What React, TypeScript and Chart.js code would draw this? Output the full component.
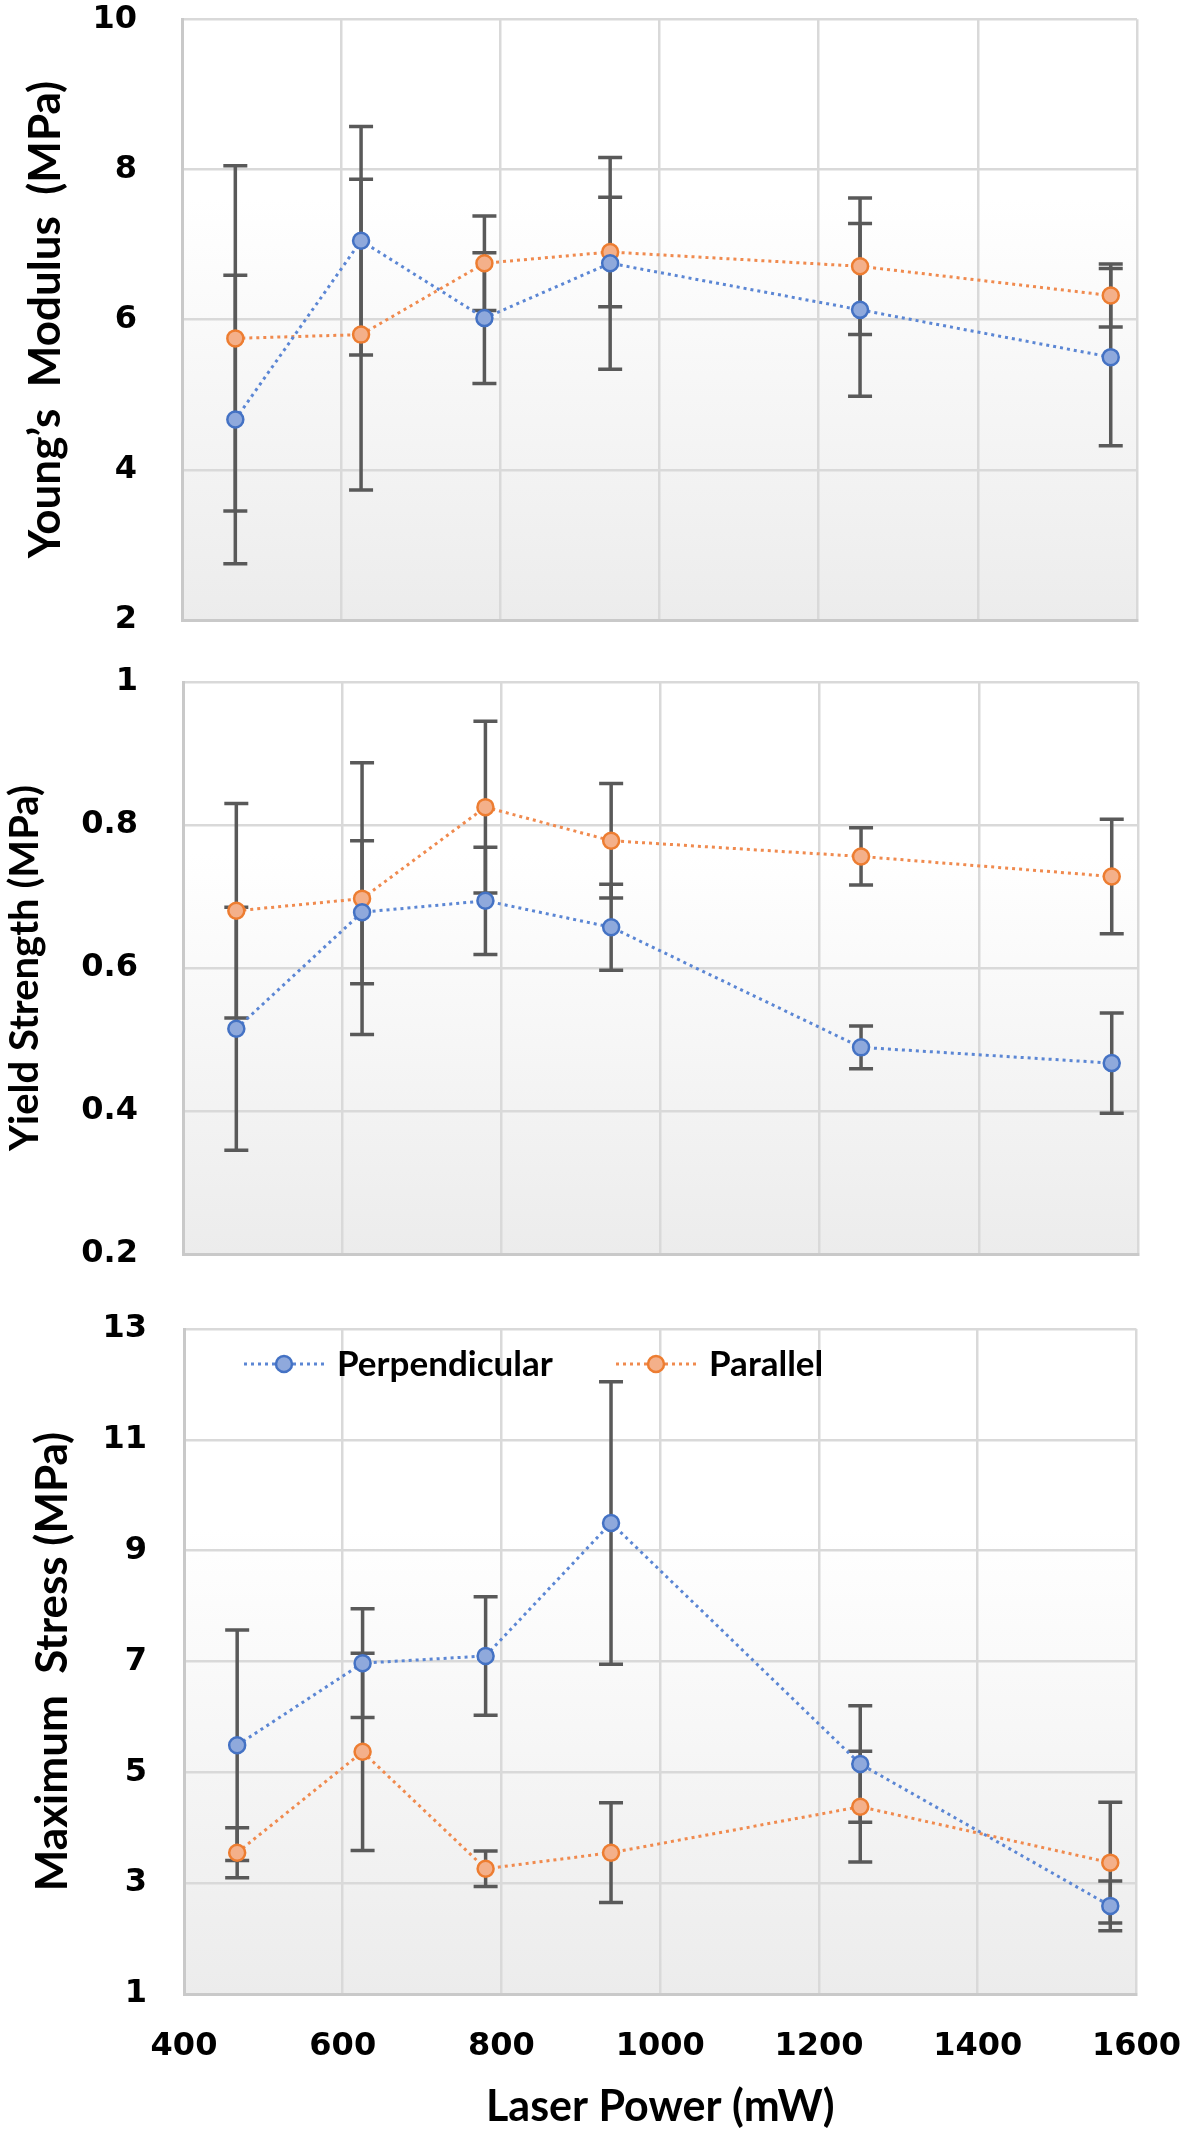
import React, { useEffect, useRef } from 'react';
import { Chart, registerables } from 'chart.js';

Chart.register(...registerables);

// ---------- data ----------
const laserPower = [467, 625, 780, 938, 1252, 1567];
const xTicks = [400, 600, 800, 1000, 1200, 1400, 1600];
const seriesNames = ['Perpendicular', 'Parallel'];

const youngTicks = [2, 4, 6, 8, 10];
const youngPerp = [4.67, 7.05, 6.02, 6.75, 6.13, 5.5];
const youngPerpErr = [1.92, 1.52, 0.87, 1.41, 1.15, 1.18];
const youngPara = [5.75, 5.8, 6.75, 6.9, 6.71, 6.32];
const youngParaErr = [2.3, 2.07, 0.63, 0.73, 0.91, 0.42];

const yieldTicks = [0.2, 0.4, 0.6, 0.8, 1];
const yieldPerp = [0.515, 0.678, 0.694, 0.657, 0.489, 0.467];
const yieldPerpErr = [0.17, 0.1, 0.075, 0.06, 0.03, 0.07];
const yieldPara = [0.68, 0.697, 0.825, 0.778, 0.756, 0.728];
const yieldParaErr = [0.15, 0.19, 0.12, 0.08, 0.04, 0.08];

const stressTicks = [1, 3, 5, 7, 9, 11, 13];
const stressPerp = [5.49, 6.97, 7.1, 9.5, 5.15, 2.59];
const stressPerpErr = [2.08, 0.98, 1.07, 2.55, 1.05, 0.45];
const stressPara = [3.55, 5.37, 3.26, 3.55, 4.38, 3.37];
const stressParaErr = [0.45, 1.78, 0.32, 0.9, 1.0, 1.09];

// ---------- styles ----------
const BLUE_LINE = '#5b86d4';
const BLUE_EDGE = '#4472c4';
const BLUE_FILL = '#8fa9dc';
const ORANGE_LINE = '#f08a4e';
const ORANGE_EDGE = '#ed7d31';
const ORANGE_FILL = '#f4b08a';
const GRID = '#d9d9d9';
const CLEAR = 'rgba(0,0,0,0)';
const TICK_FONT = { family: 'DejaVu Sans', weight: 'bold' as const, size: 32 };

// ---------- plugins ----------
const plotBgPlugin = {
  id: 'plotBg',
  beforeDraw(chart: any) {
    const { ctx, chartArea: a } = chart;
    const g = ctx.createLinearGradient(0, a.top, 0, a.bottom);
    g.addColorStop(0, '#ffffff');
    g.addColorStop(0.3, '#ffffff');
    g.addColorStop(1, '#ececec');
    ctx.save();
    ctx.fillStyle = g;
    ctx.fillRect(a.left, a.top, a.right - a.left, a.bottom - a.top);
    ctx.restore();
  },
};

const errorBarPlugin = {
  id: 'errorBars',
  beforeDatasetsDraw(chart: any) {
    const ctx = chart.ctx;
    const yScale = chart.scales.y;
    chart.data.datasets.forEach((ds: any, di: number) => {
      const errs: number[] | undefined = ds.errors;
      if (!errs) return;
      const meta = chart.getDatasetMeta(di);
      ctx.save();
      ctx.strokeStyle = '#595959';
      ctx.lineWidth = 3.5;
      meta.data.forEach((pt: any, i: number) => {
        const v = ds.data[i].y;
        const e = errs[i];
        const top = yScale.getPixelForValue(v + e);
        const bot = yScale.getPixelForValue(v - e);
        const x = pt.x;
        ctx.beginPath();
        ctx.moveTo(x, top);
        ctx.lineTo(x, bot);
        ctx.moveTo(x - 12, top);
        ctx.lineTo(x + 12, top);
        ctx.moveTo(x - 12, bot);
        ctx.lineTo(x + 12, bot);
        ctx.stroke();
      });
      ctx.restore();
    });
  },
};

const insideLegendPlugin = {
  id: 'insideLegend',
  afterDatasetsDraw(chart: any, _args: any, opts: any) {
    if (!opts || !opts.show) return;
    const { ctx, chartArea: a } = chart;
    const y = a.top + opts.offsetY;
    chart.data.datasets.forEach((ds: any, i: number) => {
      const x0 = a.left + opts.starts[i];
      const len = opts.sampleLength;
      ctx.save();
      ctx.strokeStyle = ds.borderColor;
      ctx.lineWidth = 3;
      ctx.setLineDash([3, 4]);
      ctx.beginPath();
      ctx.moveTo(x0, y);
      ctx.lineTo(x0 + len, y);
      ctx.stroke();
      ctx.setLineDash([]);
      ctx.beginPath();
      ctx.arc(x0 + len / 2, y, 8, 0, Math.PI * 2);
      ctx.fillStyle = ds.pointBackgroundColor;
      ctx.fill();
      ctx.lineWidth = 2.5;
      ctx.strokeStyle = ds.pointBorderColor;
      ctx.stroke();
      ctx.fillStyle = '#000';
      ctx.font = 'bold 35px Lato';
      ctx.textBaseline = 'middle';
      ctx.textAlign = 'left';
      ctx.fillText(ds.label, x0 + len + 13, y + 1);
      ctx.restore();
    });
  },
};

// ---------- chart config builder ----------
function makeDataset(label: string, xs: number[], ys: number[], errs: number[], blue: boolean) {
  return {
    label,
    data: xs.map((x, i) => ({ x, y: ys[i] })),
    errors: errs,
    showLine: true,
    borderColor: blue ? BLUE_LINE : ORANGE_LINE,
    borderWidth: 3,
    borderDash: [3, 4],
    pointRadius: 8,
    pointBorderWidth: 2.5,
    pointBackgroundColor: blue ? BLUE_FILL : ORANGE_FILL,
    pointBorderColor: blue ? BLUE_EDGE : ORANGE_EDGE,
    fill: false,
  };
}

type PanelSpec = {
  perp: number[];
  perpErr: number[];
  para: number[];
  paraErr: number[];
  yTicks: number[];
  yTitle: string;
  yTitleSize: number;
  axisWidth: number;
  tickGap: number;
  titlePad: number;
  padding: { top: number; right: number; bottom: number; left: number };
  showX: boolean;
  xAxisHeight: number;
  legend: boolean;
};

function makeConfig(p: PanelSpec): any {
  return {
    type: 'scatter',
    data: {
      datasets: [
        makeDataset(seriesNames[0], laserPower, p.perp, p.perpErr, true),
        makeDataset(seriesNames[1], laserPower, p.para, p.paraErr, false),
      ],
    },
    options: {
      responsive: false,
      animation: false,
      events: [],
      layout: { padding: p.padding },
      plugins: {
        legend: { display: false },
        tooltip: { enabled: false },
        insideLegend: { show: p.legend, offsetY: 35, starts: [60, 432], sampleLength: 80 },
      },
      scales: {
        x: {
          type: 'linear',
          min: xTicks[0],
          max: xTicks[xTicks.length - 1],
          afterBuildTicks: (s: any) => {
            s.ticks = xTicks.map((v) => ({ value: v }));
          },
          afterFit: (s: any) => {
            s.height = p.xAxisHeight;
          },
          grid: {
            color: GRID,
            lineWidth: 2.5,
            drawTicks: p.showX,
            tickLength: 33,
            tickColor: CLEAR,
          },
          border: { color: '#c9c9c9', width: 3 },
          ticks: {
            display: p.showX,
            padding: 0,
            color: '#000',
            font: TICK_FONT,
            maxRotation: 0,
            callback: (v: any) => String(v),
          },
          title: {
            display: p.showX,
            text: 'Laser Power (mW)',
            color: '#000',
            font: { family: 'Lato', weight: 'bold', size: 43 },
            padding: { top: 0, bottom: 1 },
          },
        },
        y: {
          type: 'linear',
          min: p.yTicks[0],
          max: p.yTicks[p.yTicks.length - 1],
          afterBuildTicks: (s: any) => {
            s.ticks = p.yTicks.map((v) => ({ value: v }));
          },
          afterFit: (s: any) => {
            s.width = p.axisWidth;
          },
          grid: {
            color: GRID,
            lineWidth: 2.5,
            drawTicks: true,
            tickLength: p.tickGap,
            tickColor: CLEAR,
          },
          border: { color: '#c9c9c9', width: 3 },
          ticks: {
            padding: 0,
            color: '#000',
            font: TICK_FONT,
            callback: (v: any) => String(Number(v)),
          },
          title: {
            display: true,
            text: p.yTitle,
            color: '#000',
            font: { family: 'Lato', weight: 'bold', size: p.yTitleSize },
            padding: { top: p.titlePad, bottom: 0 },
          },
        },
      },
    },
    plugins: [plotBgPlugin, errorBarPlugin, insideLegendPlugin],
  };
}

function Panel({ top, height, spec }: { top: number; height: number; spec: PanelSpec }) {
  const ref = useRef<HTMLCanvasElement | null>(null);
  useEffect(() => {
    if (!ref.current) return;
    const chart = new Chart(ref.current, makeConfig(spec));
    return () => chart.destroy();
  }, []);
  return (
    <canvas
      ref={ref}
      width={1181}
      height={height}
      style={{ position: 'absolute', left: 0, top, width: 1181, height }}
    />
  );
}

const panel1: PanelSpec = {
  perp: youngPerp,
  perpErr: youngPerpErr,
  para: youngPara,
  paraErr: youngParaErr,
  yTicks: youngTicks,
  yTitle: 'Young\u2019s  Modulus  (MPa)',
  yTitleSize: 44,
  axisWidth: 182,
  tickGap: 45,
  titlePad: 19,
  padding: { top: 18, right: 44, bottom: 30, left: 0 },
  showX: false,
  xAxisHeight: 0,
  legend: false,
};

const panel2: PanelSpec = {
  perp: yieldPerp,
  perpErr: yieldPerpErr,
  para: yieldPara,
  paraErr: yieldParaErr,
  yTicks: yieldTicks,
  yTitle: 'Yield Strength (MPa)',
  yTitleSize: 40,
  axisWidth: 183,
  tickGap: 45,
  titlePad: 1,
  padding: { top: 32, right: 43, bottom: 26, left: 0 },
  showX: false,
  xAxisHeight: 0,
  legend: false,
};

const panel3: PanelSpec = {
  perp: stressPerp,
  perpErr: stressPerpErr,
  para: stressPara,
  paraErr: stressParaErr,
  yTicks: stressTicks,
  yTitle: 'Maximum  Stress (MPa)',
  yTitleSize: 44,
  axisWidth: 184,
  tickGap: 37,
  titlePad: 26,
  padding: { top: 49, right: 41, bottom: 0, left: 0 },
  showX: true,
  xAxisHeight: 140,
  legend: true,
};

export default function App() {
  return (
    <div
      style={{
        position: 'absolute',
        left: 0,
        top: 0,
        width: 1181,
        height: 2134,
        background: '#ffffff',
        overflow: 'hidden',
      }}
    >
      <Panel top={0} height={650} spec={panel1} />
      <Panel top={650} height={630} spec={panel2} />
      <Panel top={1280} height={854} spec={panel3} />
    </div>
  );
}
